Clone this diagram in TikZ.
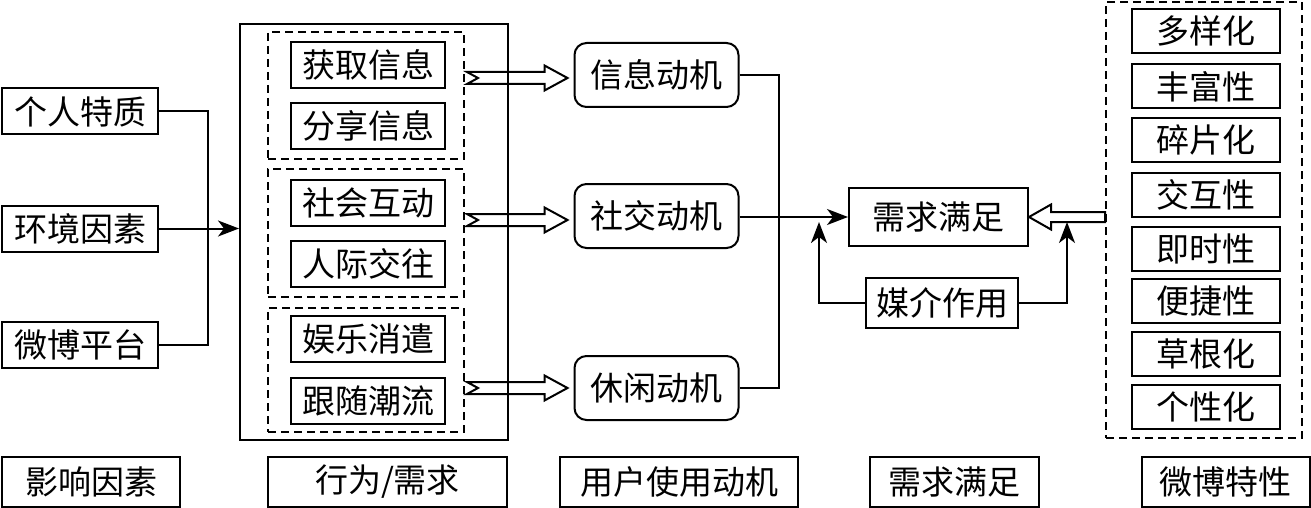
\documentclass[tikz,border=0pt]{standalone}
\usepackage{fontspec}
\newfontfamily\cjk{Noto Sans CJK SC}
\usetikzlibrary{arrows.meta,calc}
\newcommand{\fatarrow}[2]{\draw[hollow] let \p1=(#1), \p2=(#2) in (\x1,\y1+6) -- (\x2-23,\y1+6) -- (\x2-23,\y1+12.5) -- (\x2,\y1) -- (\x2-23,\y1-12.5) -- (\x2-23,\y1-6) -- (\x1,\y1-6) -- (\x1+11,\y1) -- cycle;}
\begin{document}
\begin{tikzpicture}[x=1pt,y=-1pt,
  lw/.style={line width=2pt},
  txt/.style={font=\cjk\fontsize{33}{33}\selectfont},
  box/.style={draw,lw,txt,inner sep=0pt,minimum width=#1},
  box/.default=154pt,
  rbox/.style={box=164pt,rounded corners=12pt,minimum height=64pt},
  dbox/.style={draw,lw,dash pattern=on 8pt off 5pt,inner sep=0pt},
  frame/.style={draw,lw,inner sep=0pt},
  conn/.style={lw},
  arr/.style={lw,-{Stealth[length=21pt,width=16pt,inset=6pt]}},
  hollow/.style={lw,line join=miter}]
\useasboundingbox (0,0) rectangle (1311,508);
% left factors
\node[box=156pt,minimum height=46pt] (L1) at (80,111.5) {个人特质};
\node[box=156pt,minimum height=46pt] (L2) at (80,228.5) {环境因素};
\node[box=156pt,minimum height=46pt] (L3) at (80,345) {微博平台};
% behaviour frame
\node[frame,minimum width=268pt,minimum height=416pt] (big) at (374,232) {};
\node[dbox,minimum width=196pt,minimum height=127pt] (g1) at (366,95.5) {};
\node[dbox,minimum width=196pt,minimum height=128pt] (g2) at (366,233) {};
\node[dbox,minimum width=196pt,minimum height=124pt] (g3) at (366,370) {};
\node[box,minimum height=46pt] (b1) at (368,65) {获取信息};
\node[box,minimum height=46pt] (b2) at (368,126) {分享信息};
\node[box,minimum height=46pt] (b3) at (368,202.5) {社会互动};
\node[box,minimum height=46pt] (b4) at (368,264) {人际交往};
\node[box,minimum height=46pt] (b5) at (368,339) {娱乐消遣};
\node[box,minimum height=46pt] (b6) at (368,400.5) {跟随潮流};
% motivations
\node[rbox] (m1) at (656.5,75) {信息动机};
\node[rbox] (m2) at (656.5,216) {社交动机};
\node[rbox] (m3) at (656.5,388) {休闲动机};
% satisfaction
\node[box=179pt,minimum height=58pt] (need) at (938.5,217) {需求满足};
\node[box=152pt,minimum height=50pt] (med) at (942,303) {媒介作用};
% weibo features
\node[dbox,minimum width=196pt,minimum height=436pt] (wb) at (1204,220) {};
\node[box=148pt,minimum height=44pt] (f1) at (1206,31) {多样化};
\node[box=148pt,minimum height=44pt] (f2) at (1206,86.5) {丰富性};
\node[box=148pt,minimum height=44pt] (f3) at (1206,140) {碎片化};
\node[box=148pt,minimum height=44pt] (f4) at (1206,195) {交互性};
\node[box=148pt,minimum height=44pt] (f5) at (1206,249) {即时性};
\node[box=148pt,minimum height=44pt] (f6) at (1206,301) {便捷性};
\node[box=148pt,minimum height=44pt] (f7) at (1206,353.5) {草根化};
\node[box=148pt,minimum height=44pt] (f8) at (1206,406.5) {个性化};
% bottom labels
\node[box=178pt,minimum height=50pt] (t1) at (91,482) {影响因素};
\node[box=239pt,minimum height=50pt] (t2) at (387.5,482) {行为/需求};
\node[box=238pt,minimum height=50pt] (t3) at (679,482) {用户使用动机};
\node[box=169pt,minimum height=50pt] (t4) at (954.5,482) {需求满足};
\node[box=168pt,minimum height=50pt] (t5) at (1225.5,482) {微博特性};
% connectors left
\coordinate (j1) at (208,228.5);
\draw[conn] (L1.east) -| (j1);
\draw[conn] (L3.east) -| (j1);
\draw[arr] (L2.east) -- (big.west |- L2.east);
% fat arrows
\coordinate (a1) at (467,78);
\coordinate (a2) at (467,220);
\coordinate (a3) at (467,388);
\fatarrow{a1}{$(m1.west|-a1)+(-6,0)$}
\fatarrow{a2}{$(m2.west|-a2)+(-6,0)$}
\fatarrow{a3}{$(m3.west|-a3)+(-6,0)$}
% motivations to need
\coordinate (j2) at (779,217);
\draw[conn] (m1.east) -| (j2);
\draw[conn] (m3.east) -| (j2);
\draw[arr] (m2.east |- need.west) -- (need.west);
% mediation
\coordinate (c1) at (819,222);
\coordinate (c2) at (1067,222);
\draw[arr] (med.west) -| (c1);
\draw[arr] (med.east) -| (c2);
% weibo to need
\draw[hollow] let \p1=(wb.west|-need.east), \p2=(need.east) in (\x1,\y1+5) -- (\x2+22,\y1+5) -- (\x2+22,\y1+12.5) -- (\x2,\y1) -- (\x2+22,\y1-12.5) -- (\x2+22,\y1-5) -- (\x1,\y1-5) -- cycle;
\end{tikzpicture}
\end{document}
